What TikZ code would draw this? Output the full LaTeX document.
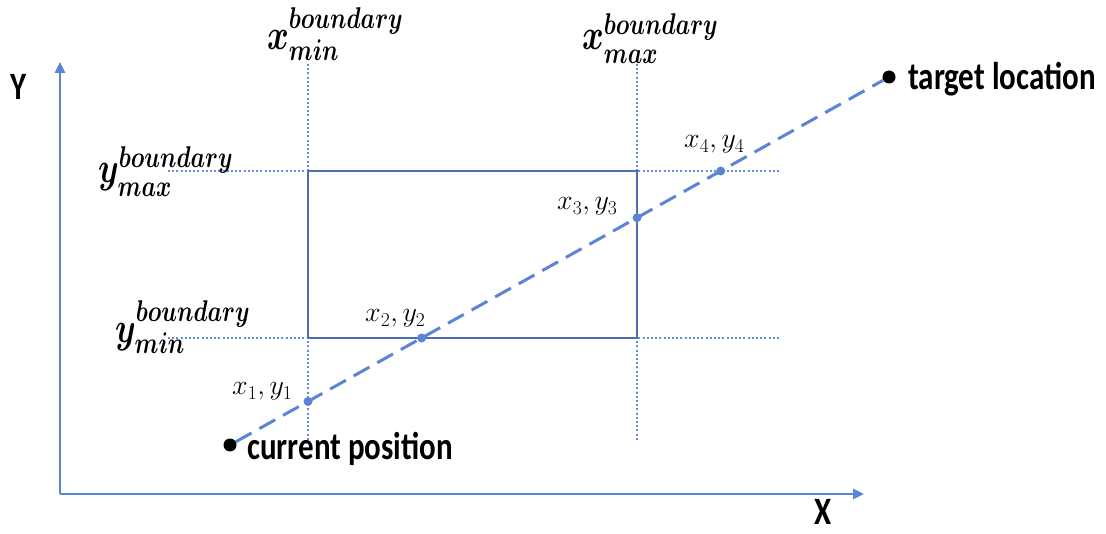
\RequirePackage{fix-cm}
\documentclass[tikz,border=0pt]{standalone}
\usepackage{amsmath}
\usepackage{fontspec}
\newfontfamily\lab{Carlito}
\usetikzlibrary{arrows.meta}
\definecolor{axisblue}{RGB}{91,132,214}
\definecolor{dotblue}{RGB}{100,140,220}
\definecolor{rectblue}{RGB}{80,110,175}
\begin{document}
\begin{tikzpicture}[x=1pt,y=-1pt,
  axis/.style={axisblue, line width=2.6pt, -{Triangle[length=11pt,width=10pt]}},
  guide/.style={dotblue, line width=2.2pt, dash pattern=on 2pt off 2.2pt},
  box/.style={rectblue, line width=1.6pt},
  route/.style={axisblue, line width=3pt, dash pattern=on 18pt off 9pt},
  endpt/.style={circle, fill=black, inner sep=0pt, minimum size=13pt},
  hit/.style={circle, fill=axisblue, inner sep=0pt, minimum size=9pt},
  bigtxt/.style={font=\lab\bfseries\fontsize{31}{36}\selectfont, inner sep=0pt, anchor=base west, transform shape, yscale=1.25},
  bnd/.style={font=\fontsize{33}{36}\selectfont\boldmath, inner sep=0pt, anchor=base west, transform shape, yscale=1.3},
  lbl/.style={font=\fontsize{28}{30}\selectfont, inner sep=0pt, anchor=base west}
]
\useasboundingbox (0,0) rectangle (1106,534);
% axes
\coordinate (o) at (60,494);
\coordinate (xe) at (864,494);
\coordinate (ye) at (60,62);
\draw[axis] (o) -- (xe);
\draw[axis] (o) -- (ye);
% guides
\coordinate (vminT) at (308,64); \coordinate (vminB) at (308,440);
\coordinate (vmaxT) at (637,64); \coordinate (vmaxB) at (637,440);
\coordinate (hmaxL) at (168,171); \coordinate (hmaxR) at (780,171);
\coordinate (hminL) at (168,338); \coordinate (hminR) at (780,338);
\draw[guide] (vminT) -- (vminB);
\draw[guide] (vmaxT) -- (vmaxB);
\draw[guide] (hmaxL) -- (hmaxR);
\draw[guide] (hminL) -- (hminR);
\draw[box] (308,171) rectangle (637,338);
% route
\node[endpt] (cur) at (230,445) {};
\node[endpt] (tgt) at (889,77) {};
\draw[route] (cur) -- (tgt);
\path (intersection of cur--tgt and vminT--vminB) coordinate (p1);
\path (intersection of cur--tgt and hminL--hminR) coordinate (p2);
\path (intersection of cur--tgt and vmaxT--vmaxB) coordinate (p3);
\path (intersection of cur--tgt and hmaxL--hmaxR) coordinate (p4);
\node[hit] (h1) at (p1) {};
\node[hit] (h2) at (p2) {};
\node[hit] (h3) at (p3) {};
\node[hit] (h4) at (p4) {};
% point labels
\node[lbl] (l1) at (232,395) {$x_1, y_1$};
\node[lbl] (l2) at (365,322) {$x_2, y_2$};
\node[lbl] (l3) at (557,210) {$x_3, y_3$};
\node[lbl] (l4) at (684,148) {$x_4, y_4$};
% boundary labels
\node[bnd] (xmin) at (267,50) {$x^{boundary}_{min}$};
\node[bnd] (xmax) at (582,50) {$x^{boundary}_{max}$};
\node[bnd] (ymax) at (98,183) {$y^{boundary}_{max}$};
\node[bnd] (ymin) at (115,343) {$y^{boundary}_{min}$};
% texts
\node[bigtxt] (ylab) at (10,100) {Y};
\node[bigtxt] (xlab) at (814,524) {X};
\node[bigtxt] (curlab) at (247,460) {current position};
\node[bigtxt] (tgtlab) at (908,90) {target location};
\end{tikzpicture}
\end{document}
